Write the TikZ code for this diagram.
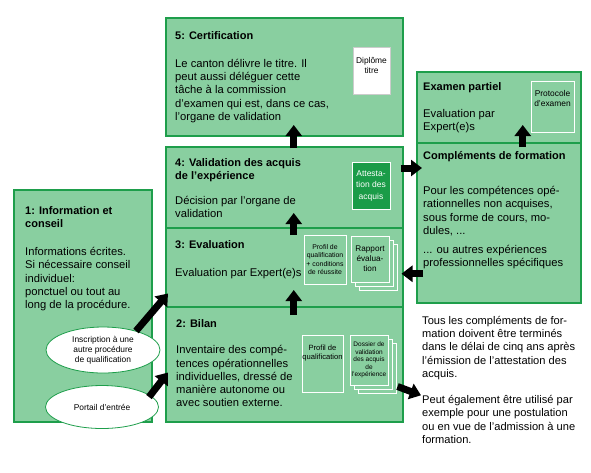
\documentclass[tikz,border=0pt]{standalone}
\usepackage{fontspec}
\setmainfont{Liberation Sans}
\usetikzlibrary{shapes.geometric, arrows.meta, positioning, shadows, calc}

\definecolor{stagefill}{RGB}{137,207,160}
\definecolor{stageline}{RGB}{30,158,75}
\definecolor{darkleaf}{RGB}{26,156,72}

\tikzset{
    stage/.style={draw=stageline, fill=stagefill, line width=1.5pt, rectangle, anchor=north west, inner sep=0pt},
    headtxt/.style={anchor=north west, inner sep=0pt, align=left, font=\fontsize{11}{13.3}\selectfont\bfseries},
    bodytxt/.style={anchor=north west, inner sep=0pt, align=left, font=\fontsize{11.2}{13.3}\selectfont},
    paper/.style={rectangle, draw=white, fill=stagefill, line width=1pt, inner sep=0pt, align=center},
    paperstack/.style={paper, double copy shadow={shadow xshift=4pt, shadow yshift=-4pt, fill=stagefill, draw=white, line width=1pt}},
    papertxt/.style={anchor=north, inner sep=0pt, align=center},
    entry/.style={ellipse, draw=stageline, fill=white, line width=0.8pt, inner sep=0pt, align=center, font=\fontsize{8.4}{10}\selectfont},
    bigarrow/.style={line width=7pt, -{Triangle[width=16pt, length=11pt]}},
}

\begin{document}
\begin{tikzpicture}[x=1pt, y=-1pt]
    \useasboundingbox (0,0) rectangle (591,472);

    % Stages
    \node[stage, minimum width=237pt, minimum height=118pt] (b5) at (165,17) {};
    \node[stage, minimum width=237pt, minimum height=81pt] (b4) at (165,146) {};
    \node[stage, minimum width=237pt, minimum height=79pt] (b3) at (165,227) {};
    \node[stage, minimum width=237pt, minimum height=115pt] (b2) at (165,306) {};
    \node[stage, minimum width=138pt, minimum height=232pt] (b1) at (13,189) {};
    \node[stage, minimum width=164pt, minimum height=71pt] (ex) at (416,71) {};
    \node[stage, minimum width=164pt, minimum height=160pt] (comp) at (416,142) {};

    % Stage texts
    \node[headtxt, below right=14.7pt and 10pt of b5.north west] (t5) {5: Certification};
    \node[bodytxt, below right=41.7pt and 10pt of b5.north west] (d5) {Le canton délivre le titre. Il\\peut aussi déléguer cette\\tâche à la commission\\d'examen qui est, dans ce cas,\\l'organe de validation};

    \node[headtxt, below right=12.3pt and 10pt of b4.north west] (t4) {4: Validation des acquis\\de l'expérience};
    \node[bodytxt, below right=50pt and 10pt of b4.north west] (d4) {Décision par l'organe de\\validation};

    \node[headtxt, below right=13pt and 10pt of b3.north west] (t3) {3: Evaluation};
    \node[bodytxt, below right=40.7pt and 10pt of b3.north west] (d3) {Evaluation par Expert(e)s};

    \node[headtxt, below right=13pt and 11pt of b2.north west] (t2) {2: Bilan};
    \node[bodytxt, below right=39.3pt and 11pt of b2.north west] (d2) {Inventaire des compé-\\tences opérationnelles\\individuelles, dressé de\\manière autonome ou\\avec soutien externe.};

    \node[headtxt, below right=17pt and 12pt of b1.north west] (t1) {1: Information et\\conseil};
    \node[bodytxt, below right=58pt and 12pt of b1.north west] (d1) {Informations écrites.\\Si nécessaire conseil\\individuel:\\ponctuel ou tout au\\long de la procédure.};

    \node[headtxt, below right=11.7pt and 7pt of ex.north west] (tex) {Examen partiel};
    \node[bodytxt, below right=37.7pt and 7pt of ex.north west] (dex) {Evaluation par\\Expert(e)s};

    \node[headtxt, below right=9.7pt and 7pt of comp.north west] (tcomp) {Compléments de formation};
    \node[bodytxt, below right=44pt and 7pt of comp.north west] (dcomp) {Pour les compétences opé-\\rationnelles non acquises,\\sous forme de cours, mo-\\dules, ...\\[6pt]... ou autres expériences\\professionnelles spécifiques};

    % Documents
    \node[paper, fill=white, draw=black!20, line width=0.6pt, minimum width=37pt, minimum height=47pt] (dip) at (371.5,70.5) {};
    \node[papertxt, font=\fontsize{8.4}{10}\selectfont, below=10.5pt of dip.north] (diptxt) {Diplôme\\titre};
    \node[paper, fill=darkleaf, text=white, minimum width=38pt, minimum height=47pt, font=\fontsize{8.5}{11.5}\selectfont] (att) at (371,185.5) {Attesta-\\tion des\\acquis};
    \node[paper, minimum width=42pt, minimum height=49pt, font=\fontsize{6.9}{8.6}\selectfont] (prof3) at (325,259.5) {Profil de\\qualification\\+ conditions\\de réussite};
    \node[paperstack, minimum width=38pt, minimum height=46pt, font=\fontsize{8.2}{10}\selectfont] (rap) at (370,259) {Rapport\\évalua-\\tion};
    \node[paper, minimum width=41pt, minimum height=57pt] (prof2) at (322.5,363.5) {};
    \node[papertxt, font=\fontsize{7.6}{8.7}\selectfont, below=10.5pt of prof2.north] (prof2txt) {Profil de\\qualification};
    \node[paperstack, minimum width=38pt, minimum height=50pt, font=\fontsize{6.5}{7.5}\selectfont] (dos) at (369,360) {Dossier de\\validation\\des acquis\\de\\l'expérience};
    \node[paper, minimum width=43pt, minimum height=51pt] (prot) at (552.5,106.5) {};
    \node[papertxt, font=\fontsize{8.4}{10}\selectfont, below=10pt of prot.north] (prottxt) {Protocole\\d'examen};

    % Entry points
    \node[entry, minimum width=114pt, minimum height=46pt] (insc) at (103,350) {Inscription à une\\autre procédure\\de qualification};
    \node[entry, minimum width=113pt, minimum height=43pt] (port) at (102,407) {Portail d'entrée};

    % Notes
    \node[bodytxt, font=\fontsize{11.1}{13.3}\selectfont] (note1) at (422,316) {Tous les compléments de for-\\mation doivent être terminés\\dans le délai de cinq ans après\\l'émission de l'attestation des\\acquis.};
    \node[bodytxt, font=\fontsize{11.1}{13.3}\selectfont] (note2) at (422,395.3) {Peut également être utilisé par\\exemple pour une postulation\\ou en vue de l'admission à une\\formation.};

    % Arrows
    \draw[bigarrow] ($(b2.north)+(9.5,9)$) -- ($(b2.north)+(9.5,-16)$);
    \draw[bigarrow] ($(b3.north)+(9.5,8)$) -- ($(b3.north)+(9.5,-14)$);
    \draw[bigarrow] ($(b4.north)+(9.5,2)$) -- ($(b4.north)+(9.5,-21)$);
    \draw[bigarrow] ($(insc.center)+(33,-19)$) -- ($(b3.south west)+(3,-14)$);
    \draw[bigarrow] ($(port.center)+(47,-10)$) -- ($(b2.south west)+(3,-50)$);
    \draw[bigarrow] ($(b4.north east)+(-3,22)$) -- ($(comp.north west)+(6,26)$);
    \draw[bigarrow] ($(comp.west)+(7,51)$) -- ($(b3.east)+(-2,6.5)$);
    \draw[bigarrow] ($(comp.north)+(24,5)$) -- ($(comp.north)+(24,-17)$);
    \draw[bigarrow] ($(dos.south east)+(9,1)$) -- ($(note2.north west)+(-1,0)$);
\end{tikzpicture}
\end{document}
